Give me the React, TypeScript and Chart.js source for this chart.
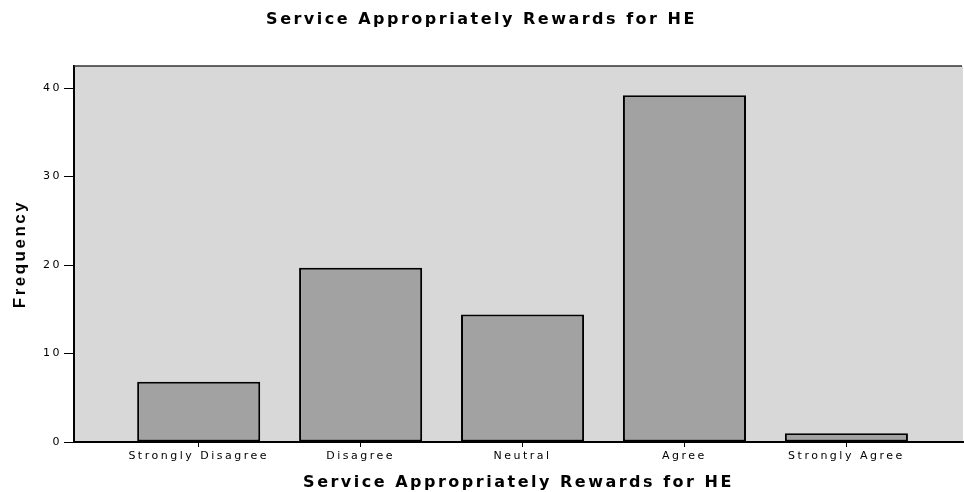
import React, { useEffect, useRef } from "react";
import { Chart, registerables } from "chart.js";

Chart.register(...registerables);

// ---- data ----
const categories = ["Strongly Disagree", "Disagree", "Neutral", "Agree", "Strongly Agree"];
const frequencies = [6.8, 19.7, 14.4, 39.2, 1];
const yTickValues = [0, 10, 20, 30, 40];
const chartTitle = "Service Appropriately Rewards for HE";
const xAxisTitle = "Service Appropriately Rewards for HE";
const yAxisTitle = "Frequency";

const plotStyle = {
  id: "plotStyle",
  beforeDraw(chart: any) {
    const { ctx, chartArea } = chart;
    ctx.letterSpacing = "2.5px";
    ctx.save();
    ctx.fillStyle = "#d8d8d8";
    ctx.fillRect(chartArea.left, chartArea.top, chartArea.right - chartArea.left, chartArea.bottom - chartArea.top);
    ctx.restore();
  },
  afterDatasetsDraw(chart: any) {
    const { ctx, chartArea } = chart;
    ctx.save();
    ctx.strokeStyle = "#333";
    ctx.lineWidth = 1.5;
    ctx.beginPath();
    ctx.moveTo(chartArea.left, chartArea.top);
    ctx.lineTo(chartArea.right - 1, chartArea.top);
    ctx.stroke();
    ctx.restore();
  },
};

export default function App() {
  const ref = useRef<HTMLCanvasElement>(null);
  useEffect(() => {
    const canvas = ref.current!;
    const chart = new Chart(canvas, {
      type: "bar",
      data: {
        datasets: [
          {
            label: yAxisTitle,
            data: frequencies.map((v, i) => ({ x: i, y: v })),
            backgroundColor: "#a2a2a2",
            borderColor: "#000",
            borderWidth: 2,
            borderSkipped: false,
            categoryPercentage: 1,
            barPercentage: 0.76,
          } as any,
        ],
      },
      plugins: [plotStyle],
      options: {
        responsive: false,
        animation: false,
        devicePixelRatio: 1,
        layout: { padding: { left: 0, right: 1, top: 0, bottom: 0 } },
        font: { family: "'DejaVu Sans', sans-serif" },
        plugins: {
          legend: { display: false },
          tooltip: { enabled: false },
          title: {
            display: true,
            text: chartTitle,
            color: "#000",
            font: { family: "'DejaVu Sans', sans-serif", size: 16, weight: "bold", lineHeight: 1.2 },
            padding: { top: 10.4, bottom: 36.4 },
          },
        },
        scales: {
          x: {
            type: "linear",
            min: -0.77,
            max: 4.72,
            offset: false,
            afterBuildTicks: (axis: any) => {
              axis.ticks = categories.map((_, i) => ({ value: i }));
            },
            afterFit: (axis: any) => {
              axis.height = 50;
            },
            grid: {
              offset: false,
              drawOnChartArea: false,
              drawTicks: true,
              tickLength: 5,
              color: "#000",
              tickColor: "#000",
            },
            border: { display: true, color: "#000", width: 2 },
            ticks: {
              autoSkip: false,
              maxRotation: 0,
              minRotation: 0,
              padding: 3,
              color: "#000",
              font: { family: "'DejaVu Sans', sans-serif", size: 11, lineHeight: 1.2 },
              callback: (value: any) => categories[value as number] ?? "",
            },
            title: {
              display: true,
              text: xAxisTitle,
              color: "#000",
              font: { family: "'DejaVu Sans', sans-serif", size: 16, weight: "bold", lineHeight: 1.2 },
              padding: { top: 0, bottom: 0 },
            },
          },
          y: {
            type: "linear",
            min: 0,
            max: 42.5,
            afterBuildTicks: (axis: any) => {
              axis.ticks = yTickValues.map((v) => ({ value: v }));
            },
            afterFit: (axis: any) => {
              axis.width = 74;
            },
            grid: {
              drawOnChartArea: false,
              drawTicks: true,
              tickLength: 10,
              color: "#000",
              tickColor: "#000",
            },
            border: { display: true, color: "#000", width: 2 },
            ticks: {
              padding: 2,
              color: "#000",
              font: { family: "'DejaVu Sans', sans-serif", size: 11, lineHeight: 1.2 },
            },
            title: {
              display: true,
              text: yAxisTitle,
              color: "#000",
              font: { family: "'Liberation Sans', sans-serif", size: 17, weight: "bold", lineHeight: 1.2 },
              padding: { top: 10, bottom: 0 },
            },
          },
        },
      } as any,
    });
    return () => chart.destroy();
  }, []);
  return (
    <div style={{ position: "absolute", left: 0, top: 0, width: 964, height: 492 }}>
      <canvas ref={ref} width={964} height={492} style={{ display: "block" }} />
    </div>
  );
}
